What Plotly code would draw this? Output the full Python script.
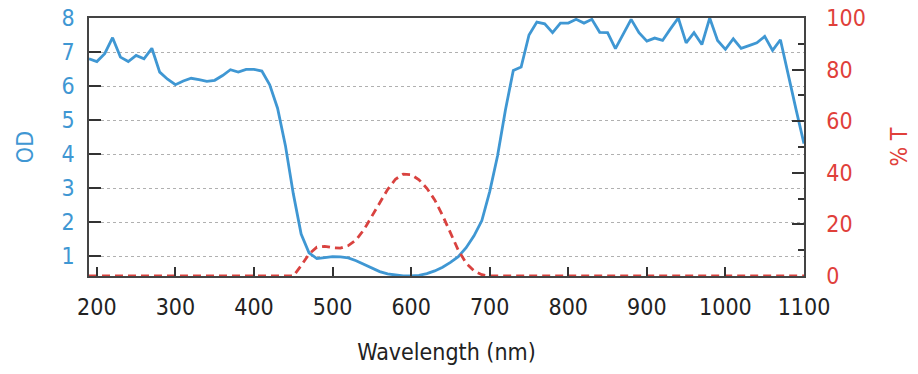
import plotly.graph_objects as go

wavelength = list(range(190, 1101, 10))

od = [6.80, 6.72, 6.95, 7.42, 6.85, 6.72, 6.90, 6.80, 7.11, 6.41,
      6.20, 6.04, 6.15, 6.23, 6.19, 6.14, 6.17, 6.31, 6.48, 6.41,
      6.49, 6.49, 6.44, 6.04, 5.35, 4.25, 2.84, 1.65, 1.10, 0.93,
      0.96, 0.99, 0.98, 0.95, 0.87, 0.77, 0.66, 0.55, 0.48, 0.44,
      0.42, 0.42, 0.44, 0.49, 0.57, 0.68, 0.82, 0.99, 1.25, 1.60,
      2.05, 2.90, 3.95, 5.30, 6.46, 6.56, 7.50, 7.88, 7.83, 7.57,
      7.85, 7.85, 7.96, 7.85, 7.96, 7.58, 7.57, 7.10, 7.54, 7.96,
      7.57, 7.32, 7.41, 7.34, 7.68, 8.00, 7.27, 7.57, 7.22, 8.00,
      7.34, 7.08, 7.39, 7.11, 7.19, 7.27, 7.46, 7.05, 7.36, 6.30,
      5.30, 4.31]

transmission = [0, 0, 0, 0, 0, 0, 0, 0, 0, 0,
                0, 0, 0, 0, 0, 0, 0, 0, 0, 0,
                0, 0, 0, 0, 0, 0, 0, 4.0, 8.5, 11.2,
                11.5, 11.0, 10.8, 11.8, 14.0, 18.0, 23.0, 28.0, 33.5, 37.5,
                39.5, 39.3, 37.3, 34.0, 29.5, 23.5, 16.5, 10.0, 5.0, 2.0,
                0.5, 0, 0, 0, 0, 0, 0, 0, 0, 0,
                0, 0, 0, 0, 0, 0, 0, 0, 0, 0,
                0, 0, 0, 0, 0, 0, 0, 0, 0, 0,
                0, 0, 0, 0, 0, 0, 0, 0, 0, 0,
                0, 0]

x_ticks = list(range(200, 1101, 100))
od_ticks = [1, 2, 3, 4, 5, 6, 7, 8]
t_ticks = [0, 20, 40, 60, 80, 100]

BLUE = "#3f97d3"
RED = "#d9423f"
RED_TXT = "#e0403a"
FONT = "DejaVu Sans Condensed, DejaVu Sans, sans-serif"
FS = 23

fig = go.Figure()
fig.add_trace(go.Scatter(x=wavelength, y=transmission, yaxis="y2", mode="lines",
                         line=dict(color=RED, width=2.8, dash="8px,5px"),
                         showlegend=False))
fig.add_trace(go.Scatter(x=wavelength, y=od, mode="lines",
                         line=dict(color=BLUE, width=2.8),
                         showlegend=False))

fig.update_layout(
    width=918, height=374,
    margin=dict(l=89, r=114, t=18, b=98),
    paper_bgcolor="white", plot_bgcolor="white",
    font=dict(family=FONT, size=FS, color="#222"),
    xaxis=dict(range=[190, 1100], tickvals=x_ticks, ticks="inside", ticklen=9,
               tickcolor="#333", tickwidth=1.5, showline=True, linecolor="#444",
               linewidth=1.5, mirror=True, showgrid=False, zeroline=False,
               ticklabelstandoff=10, automargin=False, ticklabeloverflow="allow",
               tickfont=dict(size=FS, color="#222"),
               title=dict(text="Wavelength (nm)", font=dict(size=FS, color="#222"),
                          standoff=25)),
    yaxis=dict(range=[0.42, 8], tickvals=od_ticks, ticks="inside", ticklen=12,
               tickcolor="#333", tickwidth=1.5, showline=True, linecolor="#444",
               linewidth=1.5, showgrid=True, gridcolor="#b0b0b0", griddash="dot",
               gridwidth=1, zeroline=False, ticklabelstandoff=8, automargin=False,
               ticklabeloverflow="allow",
               tickfont=dict(size=FS, color=BLUE),
               title=dict(text="OD", font=dict(size=FS, color=BLUE), standoff=21)),
    yaxis2=dict(range=[0, 100], tickvals=t_ticks, overlaying="y", side="right",
                ticks="inside", ticklen=12, tickcolor="#333", tickwidth=1.5,
                showline=True, linecolor="#444", linewidth=1.5, showgrid=False,
                zeroline=False, ticklabelstandoff=16, automargin=False,
                ticklabeloverflow="allow",
                minor=dict(dtick=10, ticks="inside", ticklen=6, tickcolor="#333",
                           tickwidth=1.5),
                tickfont=dict(size=FS, color=RED_TXT),
                title=dict(text="% T", font=dict(size=FS, color=RED_TXT),
                           standoff=26)),
)

fig.write_html("out.html",
               config={"displayModeBar": False},
               post_script="document.body.style.margin='0';"
                           "document.body.style.overflow='hidden';")
